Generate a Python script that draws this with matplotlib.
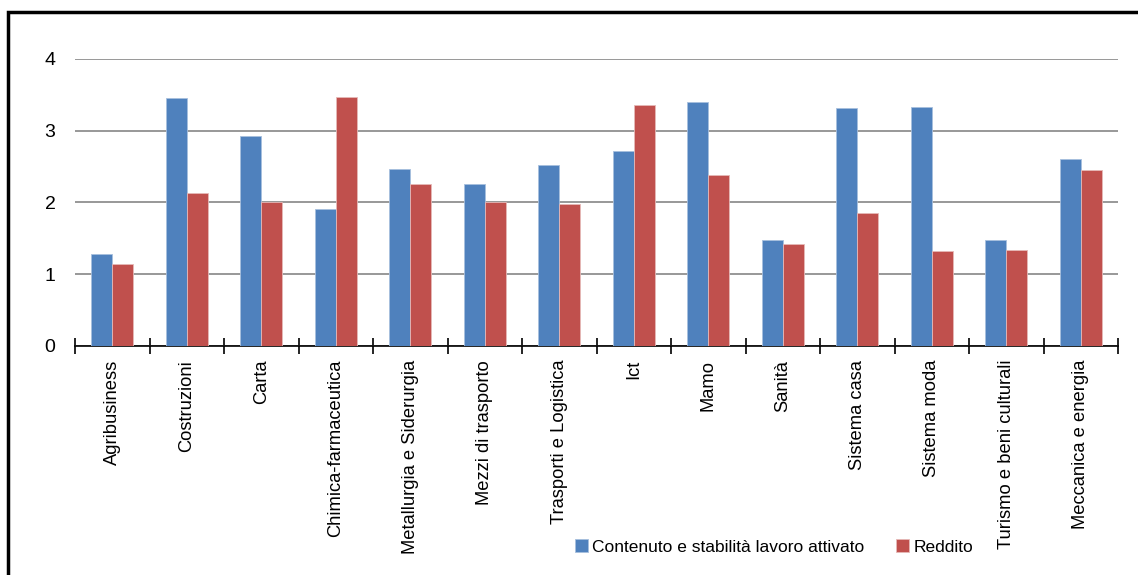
import matplotlib
matplotlib.use("Agg")
import matplotlib.pyplot as plt
from matplotlib.patches import Rectangle
from matplotlib import font_manager
import numpy as np

categories = [
    "Agribusiness", "Costruzioni", "Carta", "Chimica-farmaceutica",
    "Metallurgia e Siderurgia", "Mezzi di trasporto", "Trasporti e Logistica",
    "Ict", "Mamo", "Sanità", "Sistema casa", "Sistema moda",
    "Turismo e beni culturali", "Meccanica e energia",
]
contenuto = [1.28, 3.45, 2.92, 1.91, 2.47, 2.25, 2.52, 2.72, 3.40, 1.47, 3.32, 3.33, 1.48, 2.60]
reddito = [1.14, 2.13, 2.00, 3.46, 2.26, 2.00, 1.98, 3.35, 2.38, 1.42, 1.85, 1.32, 1.33, 2.45]
series_names = ["Contenuto e stabilità lavoro attivato", "Reddito"]
yticks = [0, 1, 2, 3, 4]

names = {f.name for f in font_manager.fontManager.ttflist}
family = "Liberation Sans Narrow" if "Liberation Sans Narrow" in names else "Liberation Sans"
plt.rcParams["font.family"] = [family, "DejaVu Sans"]

W, H = 1138, 575
fig = plt.figure(figsize=(W / 100, H / 100), dpi=100)
ax = fig.add_axes([75 / W, (H - 346) / H, (1118 - 75) / W, (346 - 58.7) / H])

blue = "#4F81BD"
red = "#C0504D"
x = np.arange(len(categories))
bw = 0.282
ax.bar(x - bw / 2, contenuto, bw, color=blue, edgecolor="#A7BFDE", linewidth=0.6,
       label=series_names[0], zorder=3)
ax.bar(x + bw / 2, reddito, bw, color=red, edgecolor="#E6B9B8", linewidth=0.6,
       label=series_names[1], zorder=3)

ax.set_xlim(-0.5, len(categories) - 0.5)
ax.set_ylim(0, 4)
ax.set_yticks(yticks)
ax.set_yticklabels([str(v) for v in yticks], fontsize=14)
ax.tick_params(axis="y", length=0, pad=14)
ax.yaxis.grid(True, color="#868686", linewidth=1.2, zorder=0)
ax.set_axisbelow(True)

ax.set_xticks(x)
ax.set_xticklabels(categories, rotation=90, fontsize=13.2, va="top", ha="center")
ax.tick_params(axis="x", which="major", length=0, pad=10)
ax.set_xticks(np.arange(-0.5, len(categories)), minor=True)
ax.tick_params(axis="x", which="minor", direction="inout", length=12, width=1.2, color="black")

for side in ["left", "right", "top"]:
    ax.spines[side].set_visible(False)
ax.spines["bottom"].set_color("black")
ax.spines["bottom"].set_linewidth(1.2)

leg = fig.legend(loc="center", bbox_to_anchor=(774 / W, (H - 547) / H), ncol=2,
                 frameon=False, fontsize=12.5, handlelength=0.75, handleheight=0.75,
                 handletextpad=0.25, columnspacing=1.85, borderaxespad=0)

fig.patches.append(Rectangle((7.5 / W, -0.05), 1.2, (H - 11.5) / H + 0.05,
                             transform=fig.transFigure, fill=False,
                             edgecolor="black", linewidth=2.5))

fig.savefig("out.png", dpi=100, facecolor="white")
